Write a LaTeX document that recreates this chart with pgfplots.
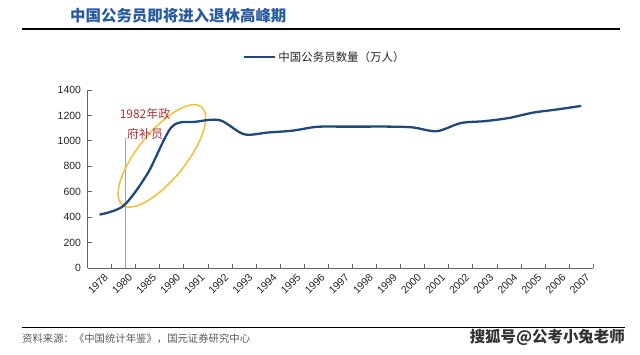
\documentclass[border=0pt]{standalone}
\usepackage{pgfplots}
\pgfplotsset{compat=1.18}
\usepackage{fontspec}
\setmainfont{Liberation Sans}
\newfontfamily\cjk{Noto Sans CJK SC}
\usetikzlibrary{shapes.geometric}
\definecolor{linecol}{RGB}{31,73,125}
\definecolor{titlecol}{RGB}{40,90,160}
\definecolor{axiscol}{RGB}{100,100,100}
\definecolor{annocol}{RGB}{170,50,50}
\definecolor{ellcol}{RGB}{240,192,50}
\definecolor{vlinecol}{RGB}{150,165,185}
\begin{document}
\begin{tikzpicture}
\useasboundingbox (0,0) rectangle (640bp,355bp);
\node[anchor=west, text=titlecol, font=\cjk\bfseries\fontsize{15.5}{18}\selectfont, inner sep=0] at (70bp,339bp) {中国公务员即将进入退休高峰期};
\draw[line width=1.2bp] (22bp,326bp) -- (620bp,326bp);
\draw[line width=1bp] (22bp,27bp) -- (625bp,27bp);
\node[anchor=west, text=black!65, font=\cjk\fontsize{10.4}{12}\selectfont, inner sep=0] at (22bp,16bp) {资料来源：《中国统计年鉴》，国元证券研究中心};
\node[anchor=east, text=black!80, font=\cjk\bfseries\fontsize{15.5}{17}\selectfont, inner sep=0] at (625bp,18bp) {搜狐号@公考小兔老师};
\begin{axis}[
  at={(87.5bp,87bp)}, anchor=south west, scale only axis,
  width=505.8bp, height=178bp,
  xmin=-0.5, xmax=20.5, ymin=0, ymax=1400,
  clip=false,
  axis x line*=bottom, axis y line*=left,
  axis line style={axiscol, line width=0.8bp},
  xtick={-0.5,0.5,...,20.5},
  x tick label as interval,
  xticklabels={1978,1980,1985,1990,1991,1992,1993,1994,1995,1996,1997,1998,1999,2000,2001,2002,2003,2004,2005,2006,2007},
  ytick={0,200,...,1400},
  tick align=inside, major tick length=4bp,
  tick style={axiscol, line width=0.8bp},
  /pgf/number format/assume math mode=true,
  /pgf/number format/1000 sep={},
  ticklabel style={font=\fontsize{10.5}{12}\selectfont, text=black!85},
  yticklabel style={xshift=-3bp},
  xticklabel style={rotate=45, anchor=east, xshift=3bp, yshift=-10bp},
  legend style={at={(axis description cs:0.3074,1.1854)}, anchor=west, draw=none, fill=none, inner sep=0pt,
    font=\cjk\fontsize{11.5}{13}\selectfont, text=black!85},
  legend image code/.code={\draw[#1, line width=2.3bp] (0bp,0bp) -- (31bp,0bp);},
]
\draw[vlinecol, line width=1.2bp] (axis cs:1.085,0) -- (axis cs:1.085,1026);
\node[draw=ellcol, line width=1.5bp, ellipse, rotate=51, minimum width=126bp, minimum height=48bp, inner sep=0] at (axis cs:2.59,882) {};
\node[text=annocol, font=\cjk\fontsize{12}{20}\selectfont, align=center] at (axis cs:1.89,1134) {1982年政\\府补员};
\addplot[smooth, linecol, line width=2.3bp] coordinates {
(0,420) (1,490) (2,745) (3,1110) (4,1150) (5,1162) (6,1052) (7,1066) (8,1080) (9,1110)
(10,1112) (11,1112) (12,1112) (13,1106) (14,1076) (15,1140) (16,1155) (17,1180) (18,1222) (19,1247) (20,1275)
};
\addlegendentry{中国公务员数量（万人）}
\end{axis}
\end{tikzpicture}
\end{document}
